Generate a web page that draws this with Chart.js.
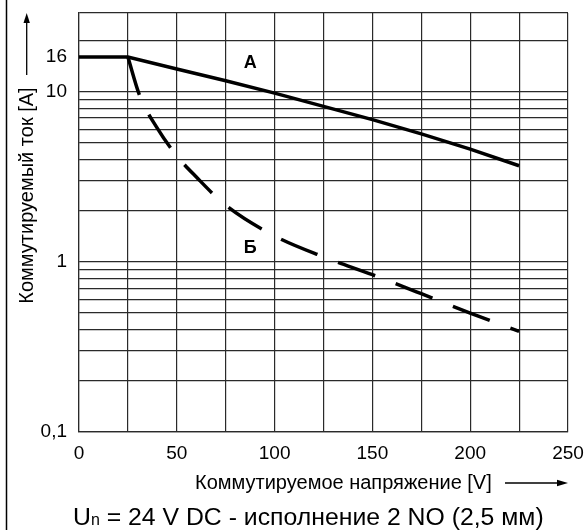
<!DOCTYPE html>
<html>
<head>
<meta charset="utf-8">
<script src="https://cdn.jsdelivr.net/npm/chart.js@4/dist/chart.umd.min.js"></script>
<style>
  html, body { margin: 0; padding: 0; background: #fff; }
  canvas { display: block; }
</style>
</head>
<body>
<canvas id="relayChart" width="585" height="530"></canvas>
<script>
// Коммутационная способность реле: ток vs напряжение (DC), лог. шкала по Y

const voltsA   = [0, 25, 50, 75, 100, 125, 150, 175, 200, 225];
const currentA = [16, 16, 13.6, 11.6, 9.8, 8.2, 6.85, 5.65, 4.6, 3.67];

const voltsB   = [25, 31, 40, 50, 60, 75, 100, 125, 150, 175, 200, 225];
const currentB = [16, 9.5, 6.1, 4.2, 3.15, 2.15, 1.42, 1.07, 0.84, 0.65, 0.5, 0.39];

const xTicks = [0, 25, 50, 75, 100, 125, 150, 175, 200, 225, 250];
const xLabels = [0, 50, 100, 150, 200, 250];
const yTicks = [0.1, 0.2, 0.3, 0.4, 0.5, 0.6, 0.7, 0.8, 0.9,
                1, 2, 3, 4, 5, 6, 7, 8, 9, 10, 16, 20, 29];
const yLabels = { 0.1: "0,1", 1: "1", 10: "10", 16: "16" };

const FONT = '"Liberation Sans", Arial, sans-serif';
const GRID = "#2a2a2a";

const toPoints = (xs, ys) => xs.map((x, i) => ({ x, y: ys[i] }));

// подписи кривых (в координатах данных)
const curveNames = [
  { text: "А", v: 87.5, i: 14.8 },
  { text: "Б", v: 87.5, i: 1.2 },
];

const decorPlugin = {
  id: "decor",
  afterDraw(chart) {
    const { ctx, scales } = chart;
    ctx.save();
    ctx.fillStyle = "#000";
    ctx.strokeStyle = "#000";

    // рамка слева
    ctx.lineWidth = 1.5;
    ctx.beginPath();
    ctx.moveTo(6.5, 0);
    ctx.lineTo(6.5, 530);
    ctx.stroke();

    // подписи кривых
    ctx.font = "bold 18px " + FONT;
    ctx.textAlign = "center";
    ctx.textBaseline = "middle";
    for (const c of curveNames) {
      ctx.fillText(c.text, scales.x.getPixelForValue(c.v), scales.y.getPixelForValue(c.i));
    }

    // заголовок оси Y со стрелкой
    ctx.font = "20px " + FONT;
    ctx.save();
    ctx.translate(27, 195.5);
    ctx.rotate(-Math.PI / 2);
    ctx.fillText("Коммутируемый ток [A]", 0, 0);
    ctx.restore();

    ctx.lineWidth = 1.3;
    ctx.beginPath();
    ctx.moveTo(26.7, 75);
    ctx.lineTo(26.7, 20);
    ctx.stroke();
    ctx.beginPath();
    ctx.moveTo(26.7, 13);
    ctx.lineTo(23.5, 23);
    ctx.lineTo(29.9, 23);
    ctx.closePath();
    ctx.fill();

    // заголовок оси X со стрелкой
    ctx.textAlign = "left";
    ctx.fillText("Коммутируемое напряжение [V]", 195, 483);
    ctx.beginPath();
    ctx.moveTo(505, 483);
    ctx.lineTo(560, 483);
    ctx.stroke();
    ctx.beginPath();
    ctx.moveTo(568, 483);
    ctx.lineTo(557, 479.8);
    ctx.lineTo(557, 486.2);
    ctx.closePath();
    ctx.fill();

    // подпись под графиком
    ctx.textBaseline = "alphabetic";
    ctx.font = "24.8px " + FONT;
    let x = 73;
    ctx.fillText("U", x, 525);
    x += ctx.measureText("U").width;
    ctx.font = "16px " + FONT;
    ctx.fillText("n", x, 525);
    x += ctx.measureText("n").width;
    ctx.font = "24.8px " + FONT;
    ctx.fillText(" = 24 V DC - исполнение 2 NO (2,5 мм)", x, 525);

    ctx.restore();
  }
};

new Chart(document.getElementById("relayChart"), {
  type: "line",
  data: {
    datasets: [
      {
        label: "А",
        data: toPoints(voltsA, currentA),
        borderColor: "#000",
        borderWidth: 3.5,
        pointRadius: 0,
        tension: 0,
        borderCapStyle: "butt",
      },
      {
        label: "Б",
        data: toPoints(voltsB, currentB),
        borderColor: "#000",
        borderWidth: 3.5,
        pointRadius: 0,
        cubicInterpolationMode: "monotone",
        borderDash: [39.5, 22],
        borderCapStyle: "butt",
      },
    ],
  },
  options: {
    responsive: false,
    animation: false,
    layout: { padding: { top: 13, right: 17, left: 0, bottom: 0 } },
    plugins: {
      legend: { display: false },
      tooltip: { enabled: false },
    },
    scales: {
      x: {
        type: "linear",
        min: 0,
        max: 250,
        afterFit: (s) => { s.height = 98; s.paddingLeft = 0; s.paddingRight = 0; },
        afterBuildTicks: (s) => { s.ticks = xTicks.map(v => ({ value: v })); },
        grid: { color: GRID, lineWidth: 1.2, drawTicks: false },
        border: { color: GRID, width: 1.2 },
        ticks: {
          autoSkip: false,
          maxRotation: 0,
          padding: 10,
          color: "#000",
          font: { family: FONT, size: 19 },
          callback: (v) => (xLabels.includes(v) ? String(v) : ""),
        },
      },
      y: {
        type: "logarithmic",
        min: 0.1,
        max: 29,
        afterFit: (s) => { s.width = 79; s.paddingTop = 0; s.paddingBottom = 0; },
        afterBuildTicks: (s) => { s.ticks = yTicks.map(v => ({ value: v })); },
        grid: {
          lineWidth: 1.2,
          drawTicks: false,
          color: (c) => (c.tick && c.tick.value === 16 ? "rgba(0,0,0,0)" : GRID),
        },
        border: { color: GRID, width: 1.2 },
        ticks: {
          autoSkip: false,
          padding: 12,
          color: "#000",
          font: { family: FONT, size: 19 },
          callback: (v) => yLabels[v] || "",
        },
      },
    },
  },
  plugins: [decorPlugin],
});
</script>
</body>
</html>
